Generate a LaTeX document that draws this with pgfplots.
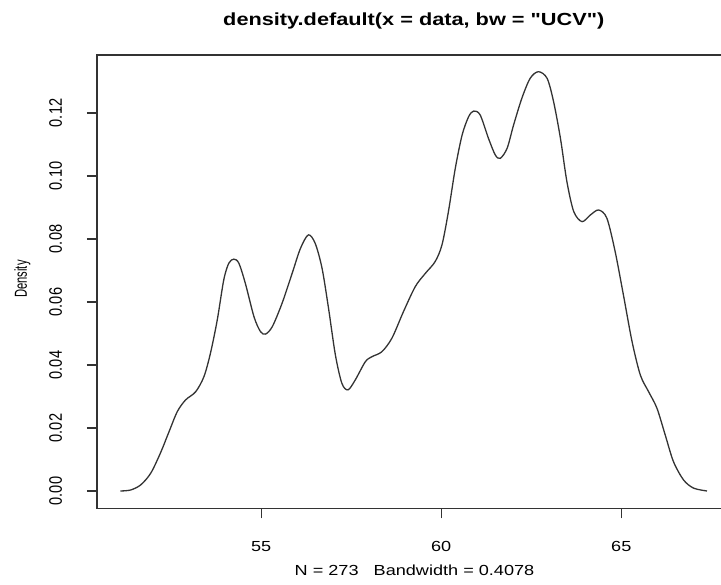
\documentclass[border=0pt]{standalone}
\usepackage{fontspec}
\setmainfont{Liberation Sans}[FakeStretch=1.24, Ligatures=TeXOff]
\newfontfamily\plainfont{Liberation Sans}[Ligatures=TeXOff]
\usepackage{pgfplots}
\usepackage{pgfplotstable}
\pgfplotsset{compat=1.18}
\pgfplotstableread{
x y
51.09 0.0000
51.37 0.0003
51.65 0.0019
51.93 0.0056
52.20 0.0120
52.44 0.0188
52.67 0.0252
52.90 0.0289
53.18 0.0315
53.41 0.0363
53.59 0.0437
53.78 0.0543
53.96 0.0670
54.10 0.0723
54.24 0.0736
54.38 0.0723
54.56 0.0659
54.80 0.0553
54.98 0.0506
55.12 0.0498
55.31 0.0522
55.58 0.0596
55.86 0.0691
56.09 0.0770
56.31 0.0813
56.50 0.0786
56.69 0.0707
56.87 0.0580
57.06 0.0432
57.24 0.0342
57.41 0.0321
57.61 0.0352
57.89 0.0410
58.07 0.0426
58.35 0.0442
58.63 0.0485
58.95 0.0569
59.28 0.0649
59.56 0.0691
59.83 0.0728
60.02 0.0781
60.20 0.0887
60.39 0.1024
60.58 0.1130
60.76 0.1188
60.90 0.1206
61.08 0.1194
61.31 0.1120
61.50 0.1067
61.64 0.1056
61.83 0.1088
62.01 0.1162
62.24 0.1247
62.47 0.1310
62.70 0.1331
62.94 0.1310
63.12 0.1236
63.31 0.1120
63.49 0.0982
63.68 0.0887
63.91 0.0855
64.14 0.0876
64.37 0.0892
64.60 0.0866
64.83 0.0760
65.06 0.0622
65.30 0.0474
65.53 0.0368
65.76 0.0315
65.99 0.0263
66.22 0.0178
66.45 0.0093
66.73 0.0035
67.01 0.0009
67.38 0.0000
}\densdata
\begin{document}
\begin{tikzpicture}
\begin{axis}[
  at={(48.5pt,37.85pt)}, anchor=south west,
  scale only axis, width=316.5pt, height=226.65pt,
  xmin=50.44, xmax=68.02, ymin=-0.0055, ymax=0.1384,
  /pgf/number format/assume math mode=true,
  axis line style={black!80, line width=0.6pt},
  tick align=outside, major tick length=5pt,
  tick style={black!80, line width=0.6pt},
  xtick={55,60,65}, ytick={0,0.02,0.04,0.06,0.08,0.10,0.12},
  xtick pos=bottom, ytick pos=left,
  minor tick num=0,
  xticklabel={\raisebox{0pt}[0pt][0pt]{\fontsize{7.3}{8}\selectfont\pgfmathprintnumber{\tick}}},
  xticklabel style={anchor=base, inner sep=0pt, outer sep=0pt},
  xticklabel shift=16.6pt,
  yticklabel={\scalebox{1}[1.24]{\plainfont\fontsize{7.3}{8}\selectfont\pgfmathprintnumber[fixed,fixed zerofill,precision=2]{\tick}}},
  yticklabel style={xshift=-12.5pt, rotate=90, anchor=base, inner sep=0pt},
]
\addplot[black!80, line width=0.65pt, smooth, no marks] table[x=x,y=y] {\densdata};
\end{axis}
\node[anchor=base, font=\bfseries\fontsize{8.76}{10}\selectfont] at (206.9pt,279pt) {density.default(x = data, bw = "UCV")};
\node[anchor=base, font=\fontsize{7.3}{8}\selectfont] at (207.25pt,4.5pt) {N = 273\ \ \ Bandwidth = 0.4078};
\node[rotate=90, anchor=base, inner sep=0pt] at (13.45pt,152.5pt) {\scalebox{1}[1.55]{\plainfont\fontsize{5.6}{7}\selectfont Density}};
\pgfresetboundingbox
\path[use as bounding box] (0pt,0pt) rectangle (360.5pt,292pt);
\end{tikzpicture}
\end{document}
